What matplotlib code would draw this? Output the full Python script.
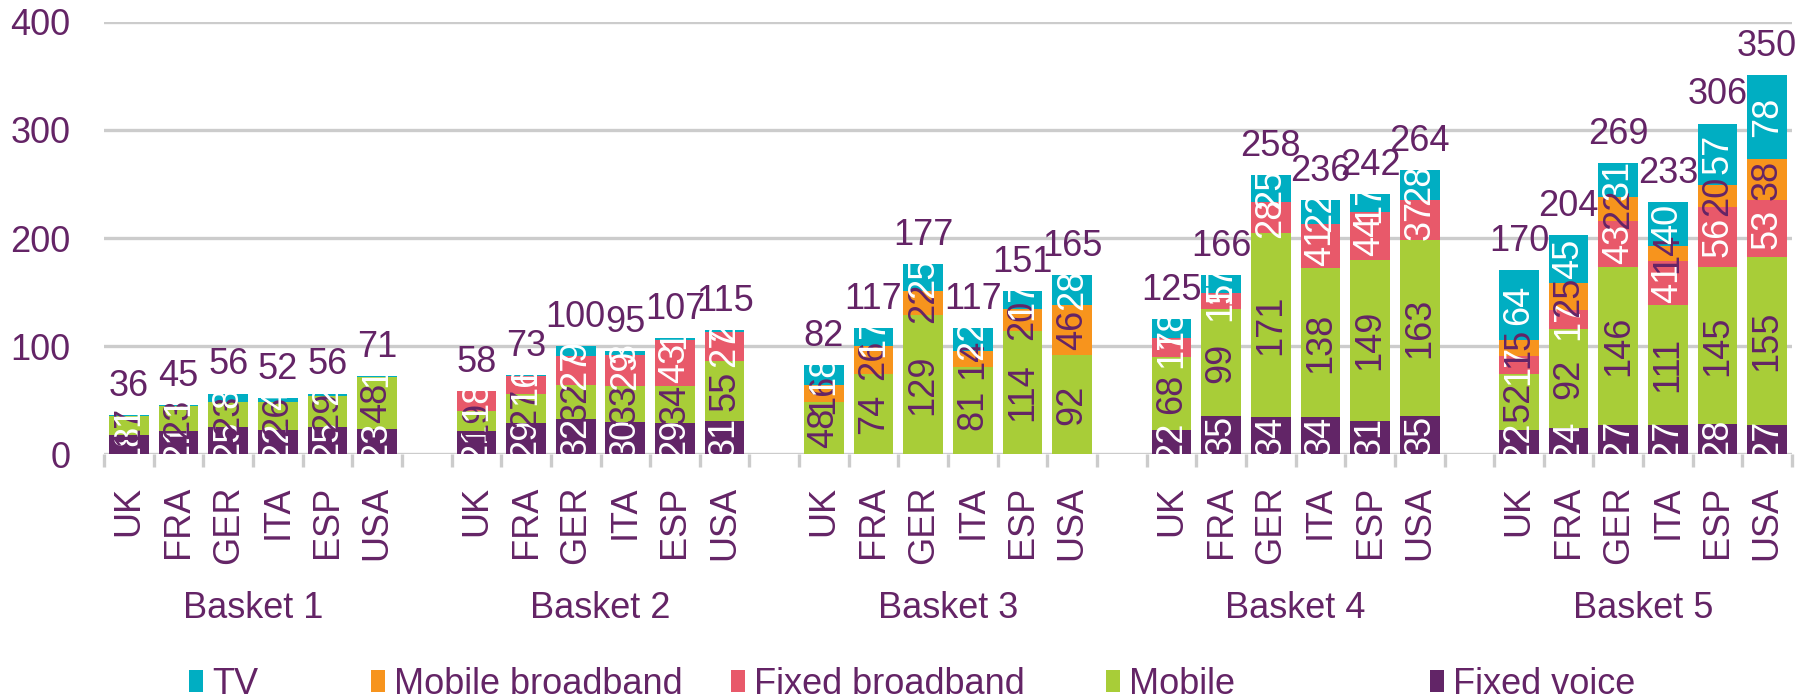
import numpy as np
import matplotlib
matplotlib.use("Agg")
import matplotlib.pyplot as plt
import matplotlib.transforms as mtransforms
from matplotlib.patches import Patch

plt.rcParams['font.family'] = ['Liberation Sans', 'DejaVu Sans']

# ------------------------------------------------------------
# Data
# ------------------------------------------------------------
baskets = ["Basket 1", "Basket 2", "Basket 3", "Basket 4", "Basket 5"]
countries = ["UK", "FRA", "GER", "ITA", "ESP", "USA"]

fixed_voice = [18, 21, 25, 22, 25, 23,
               21, 29, 32, 30, 29, 31,
               0, 0, 0, 0, 0, 0,
               22, 35, 34, 34, 31, 35,
               22, 24, 27, 27, 28, 27]
mobile = [17, 23, 23, 26, 29, 48,
          19, 27, 32, 33, 34, 55,
          48, 74, 129, 81, 114, 92,
          68, 99, 171, 138, 149, 163,
          52, 92, 146, 111, 145, 155]
fixed_broadband = [0, 0, 0, 0, 0, 0,
                   18, 16, 27, 29, 43, 27,
                   0, 0, 0, 0, 0, 0,
                   17, 15, 28, 41, 44, 37,
                   17, 17, 43, 41, 56, 53]
mobile_broadband = [0, 0, 0, 0, 0, 0,
                    0, 0, 0, 0, 0, 0,
                    16, 26, 22, 14, 20, 46,
                    0, 0, 0, 0, 0, 0,
                    15, 25, 22, 14, 20, 38]
tv = [1, 1, 8, 4, 2, 1,
      0, 1, 9, 3, 1, 2,
      18, 17, 25, 22, 17, 28,
      18, 17, 25, 22, 17, 28,
      64, 45, 31, 40, 57, 78]
totals = [36, 45, 56, 52, 56, 71,
          58, 73, 100, 95, 107, 115,
          82, 117, 177, 117, 151, 165,
          125, 166, 258, 236, 242, 264,
          170, 204, 269, 233, 306, 350]

# ------------------------------------------------------------
# Styling
# ------------------------------------------------------------
PURPLE_TXT = '#642466'
GRID = '#CCCCCC'
series = [
    ("Fixed voice", fixed_voice, '#622567', 'white'),
    ("Mobile", mobile, '#A8CD38', PURPLE_TXT),
    ("Fixed broadband", fixed_broadband, '#E8596A', 'white'),
    ("Mobile broadband", mobile_broadband, '#F7941D', PURPLE_TXT),
    ("TV", tv, '#00AEC2', 'white'),
]
FS = 26

# x positions: 6 bars per basket, one empty slot between baskets
n_c = len(countries)
x = np.array([g * (n_c + 1) + i for g in range(len(baskets)) for i in range(n_c)])

fig = plt.figure(figsize=(18.16, 7.0), dpi=100)
ax = fig.add_axes([0.0573, 0.3514, 0.9295, 0.6172])

bottom = np.zeros(len(x))
for name, vals, color, tcol in series:
    vals = np.array(vals, dtype=float)
    ax.bar(x, vals, width=0.8, bottom=bottom, color=color, linewidth=0, zorder=3)
    for xi, b, v in zip(x, bottom, vals):
        if v > 0:
            ax.text(xi, b + v / 2, f"{int(v)}", rotation=90, ha='center', va='center',
                    color=tcol, fontsize=FS, zorder=4, clip_on=False)
    bottom += vals

for xi, top, t in zip(x, bottom, totals):
    ax.annotate(f"{t}", (xi, top), xytext=(0, 8), textcoords='offset points',
                ha='center', va='bottom', color=PURPLE_TXT, fontsize=FS, zorder=5,
                annotation_clip=False)

ax.set_xlim(-0.5, x[-1] + 0.5)
ax.set_ylim(0, 400)
ax.set_yticks([0, 100, 200, 300, 400])
ax.yaxis.grid(True, color=GRID, linewidth=2.4, zorder=0)
ax.set_axisbelow(True)
for s in ax.spines.values():
    s.set_visible(False)

ax.set_xticks(x)
ax.set_xticklabels(countries * len(baskets), rotation=90, va='top')
minor = np.concatenate([np.arange(g * (n_c + 1) - 0.5, g * (n_c + 1) + n_c, 1.0)
                        for g in range(len(baskets))])
ax.set_xticks(minor, minor=True)
ax.tick_params(axis='x', which='major', length=0, pad=23, labelsize=FS, labelcolor=PURPLE_TXT)
ax.tick_params(axis='x', which='minor', length=9, width=2.4, color=GRID)
ax.tick_params(axis='y', length=0, pad=24, labelsize=FS, labelcolor=PURPLE_TXT)

# basket group labels
trans = mtransforms.blended_transform_factory(ax.transData, fig.transFigure)
for g, name in enumerate(baskets):
    cx = g * (n_c + 1) + (n_c - 1) / 2
    ax.text(cx, 1 - 608 / 700, name, transform=trans, ha='center', va='center',
            color=PURPLE_TXT, fontsize=FS)

# legend: one entry per position, as laid out in the reference
order = ["TV", "Mobile broadband", "Fixed broadband", "Mobile", "Fixed voice"]
leg_x = [189, 371, 731, 1106, 1430]
colors = {n: c for n, _, c, _ in series}
for n, lx in zip(order, leg_x):
    leg = fig.legend(handles=[Patch(facecolor=colors[n], edgecolor='none', label=n)],
                     loc='center left', bbox_to_anchor=(lx / 1816, 1 - 684 / 700),
                     frameon=False, fontsize=26, handlelength=0.4, handleheight=0.55,
                     handletextpad=0.25, borderpad=0, borderaxespad=0)
    for t in leg.get_texts():
        t.set_color(PURPLE_TXT)

fig.savefig("out.png", dpi=100)
